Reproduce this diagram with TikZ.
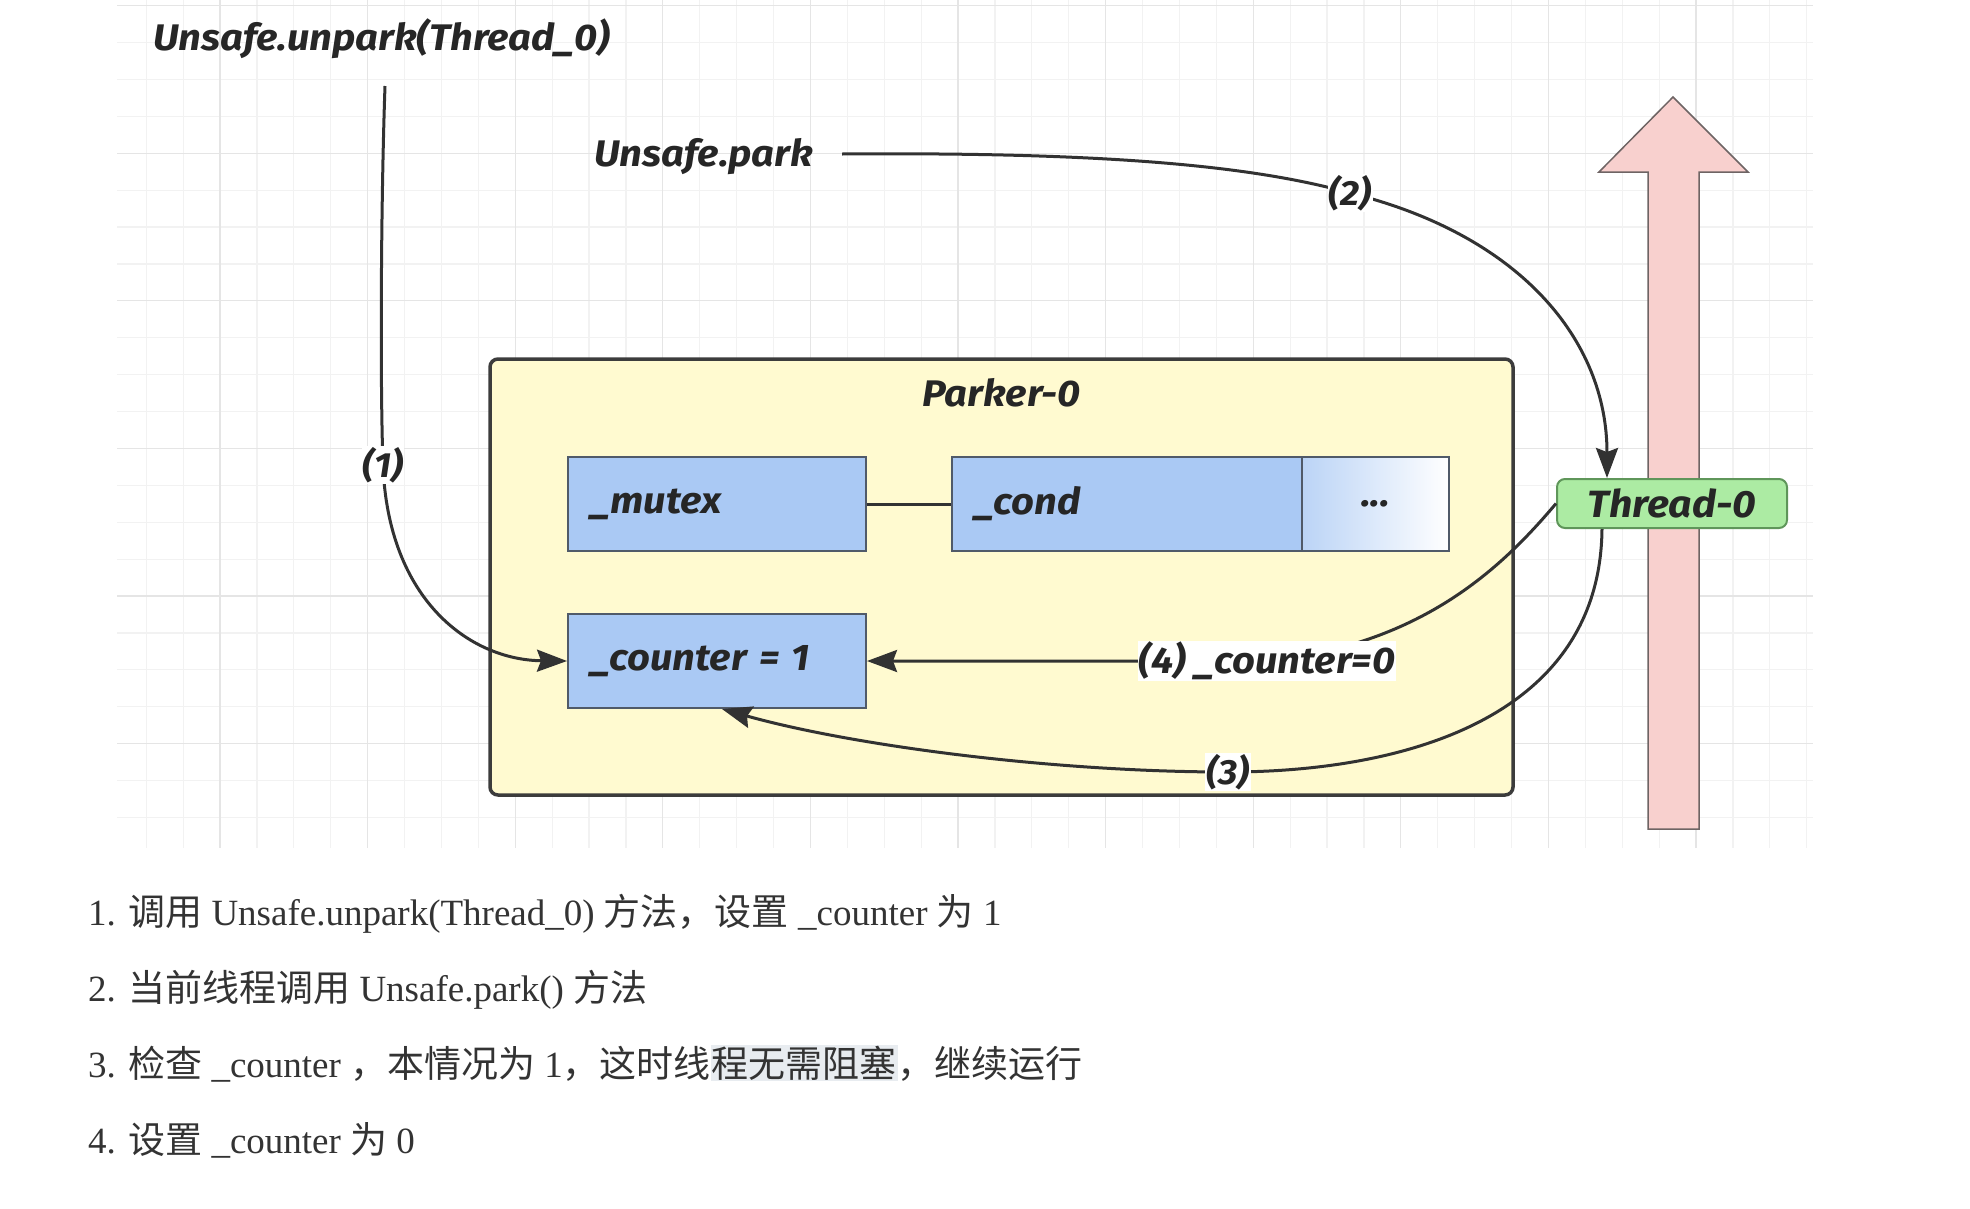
\documentclass[tikz,border=0pt]{standalone}
\usepackage{fontspec}
\setmainfont{Liberation Serif}
\newfontfamily\dfont{Fira Sans}[FakeStretch=1.08]
\newfontfamily\cjk{Noto Sans CJK SC}
\usepackage{xcolor}
\usepackage{tikz}
\usetikzlibrary{positioning}
\usetikzlibrary{arrows.meta}
\definecolor{boxblue}{RGB}{170,201,244}
\definecolor{boxline}{RGB}{80,90,105}
\definecolor{parkerfill}{RGB}{255,250,208}
\definecolor{parkerline}{RGB}{60,60,60}
\definecolor{threadgreen}{RGB}{172,235,163}
\definecolor{threadline}{RGB}{95,150,90}
\definecolor{pinkfill}{RGB}{248,208,206}
\definecolor{pinkline}{RGB}{110,100,100}
\definecolor{edgegray}{RGB}{50,50,50}
\definecolor{txtdark}{RGB}{38,38,38}
\definecolor{notegray}{RGB}{51,51,51}
\definecolor{hl}{RGB}{232,236,240}
\setlength{\fboxsep}{1pt}
\newcommand{\diafont}[1]{\dfont\bfseries\itshape\fontsize{#1}{#1}\selectfont}
\tikzstyle{field}=[rectangle,draw=boxline,fill=boxblue,line width=2pt,minimum height=94pt,inner xsep=22pt,align=left,text=txtdark,font=\diafont{37}]
\tikzstyle{dotsbox}=[rectangle,draw=boxline,line width=2pt,left color=boxblue!80,right color=white,minimum width=147pt,minimum height=94pt,text=txtdark,font=\diafont{37}]
\tikzstyle{parkerbox}=[rectangle,rounded corners=8pt,draw=parkerline,fill=parkerfill,line width=3.5pt,minimum width=1023pt,minimum height=436pt]
\tikzstyle{threadbox}=[rectangle,rounded corners=8pt,draw=threadline,fill=threadgreen,line width=2pt,minimum width=230pt,minimum height=49pt,inner sep=0pt,text=txtdark,font=\diafont{38}]
\tikzstyle{bigarrow}=[draw=pinkline,fill=pinkfill,line width=1.5pt]
\tikzstyle{gridminor}=[draw=black!5,line width=1.2pt]
\tikzstyle{gridmajor}=[draw=black!10,line width=1.2pt]
\tikzstyle{edge} = [draw,line width=3pt,color=edgegray,-{Stealth[length=30pt,width=22pt,inset=4pt]}]
\tikzstyle{undirectededge} = [draw,line width=3pt,color=edgegray]
\tikzstyle{weight} = [fill=white,inner sep=1pt,text=txtdark,font=\diafont{35}]
\tikzstyle{caption} = [inner sep=0pt,text=txtdark,font=\diafont{37}]
\tikzstyle{note} = [inner sep=0pt,text=notegray,font=\fontsize{37}{40}\selectfont]

\begin{document}
\begin{tikzpicture}[x=1pt,y=-1pt]
  \useasboundingbox (0,0) rectangle (1970,1208);

  % background grid
  \foreach \i in {0,...,45}
    \draw[gridminor] ({146.2+36.9*\i},0) -- ({146.2+36.9*\i},848);
  \foreach \j in {0,...,22}
    \draw[gridminor] (117,{5.6+36.9*\j}) -- (1813,{5.6+36.9*\j});
  \foreach \i in {2,6,...,42}
    \draw[gridmajor] ({146.2+36.9*\i},0) -- ({146.2+36.9*\i},848);
  \foreach \j in {0,4,...,20}
    \draw[gridmajor] (117,{5.6+36.9*\j}) -- (1813,{5.6+36.9*\j});

  % time arrow of the thread
  \draw[bigarrow] (1648,829) -- (1648,172) -- (1599,172) -- (1673,97) -- (1748,172) -- (1699,172) -- (1699,829) -- cycle;

  \node[parkerbox] (parker) at (1001.5,577) {};
  \node[caption, below=21pt of parker.north] (ptitle) {Parker-0};

  \foreach \x/\y/\w/\name/\label in {567/504/254/mutex/{\_mutex}, 951/504/306/cond/{\_cond}, 567/661/254/counter/{\_counter = 1}}
          \node[field, text width=\w pt, anchor=west] (\name) at (\x,\y) {\label};
  \node[dotsbox, right=-2pt of cond] (dots) {...};

  \node[threadbox] (thread) at (1672,503.5) {Thread-0};

  \node[caption, anchor=base west] (unpark) at (153,50) {Unsafe.unpark(Thread\_0)};
  \node[caption, anchor=base west] (park) at (594,166) {Unsafe.park};
  \coordinate (s1) at (385,86);
  \coordinate (s2) at (842,154);

  \path[undirectededge] (mutex) -- (cond);
  \path[edge] (s1) .. controls (381,200) and (380,380) .. (383,465) node[weight] {(1)}
        .. controls (388,600) and (470,660) .. (counter.west);
  \path[edge] (s2) .. controls (1100,152) and (1250,165) .. (1350,193) node[weight] {(2)}
        .. controls (1520,235) and (1607,340) .. ([xshift=-65pt]thread.north);
  \path[edge] ([xshift=-70pt]thread.south) .. controls (1600,720) and (1400,772) .. (1228,772) node[weight] {(3)}
        .. controls (1050,772) and (850,745) .. ([xshift=5pt]counter.south);
  \path[edge] (thread.west) .. controls (1500,570) and (1420,645) .. (1267,661) node[weight, font=\diafont{37}] {(4) \_counter=0}
        -- (counter.east);

  % steps below the picture
  \foreach \y/\name/\txt in {925/step1/{1. {\cjk 调用} Unsafe.unpark(Thread\_0) {\cjk 方法，设置} \_counter {\cjk 为} 1},
      1001/step2/{2. {\cjk 当前线程调用} Unsafe.park() {\cjk 方法}},
      1077/step3/{3. {\cjk 检查} \_counter {\cjk ，本情况为} 1{\cjk ，这时线}\colorbox{hl}{\cjk 程无需阻塞}{\cjk ，继续运行}},
      1153/step4/{4. {\cjk 设置} \_counter {\cjk 为} 0}}
          \node[note, anchor=base west] (\name) at (88,\y) {\txt};

\end{tikzpicture}
\end{document}
